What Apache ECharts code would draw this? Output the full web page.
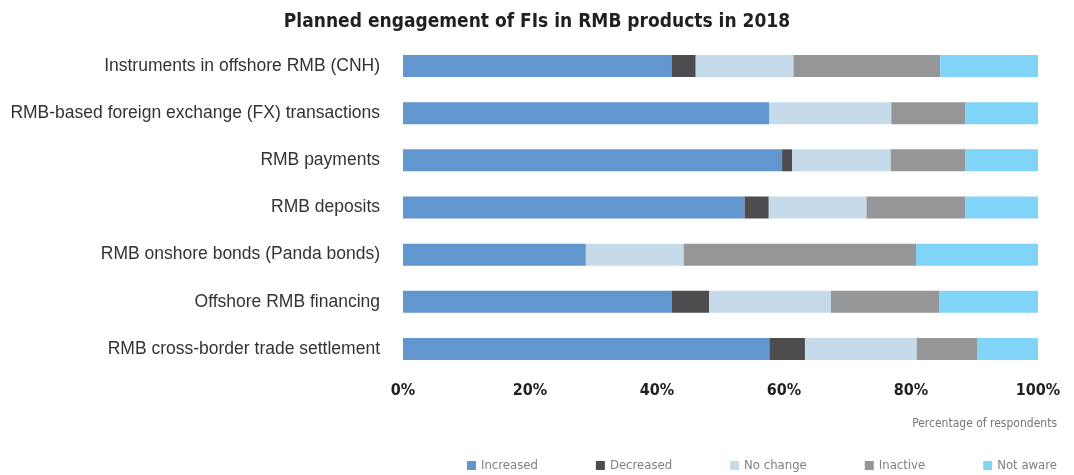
<!DOCTYPE html>
<html>
<head>
<meta charset="utf-8">
<script src="https://cdn.jsdelivr.net/npm/echarts@6/dist/echarts.min.js"></script>
<style>html,body{margin:0;padding:0;background:#fff}#c{width:1074px;height:475px}</style>
</head>
<body>
<div id="c"></div>
<script>
const categories = [
  'Instruments in offshore RMB (CNH)',
  'RMB-based foreign exchange (FX) transactions',
  'RMB payments',
  'RMB deposits',
  'RMB onshore bonds (Panda bonds)',
  'Offshore RMB financing',
  'RMB cross-border trade settlement'
];
const increased = [42.3, 57.7, 59.7, 53.8, 28.8, 42.3, 57.7];
const decreased = [3.8, 0, 1.6, 3.8, 0, 5.9, 5.6];
const noChange  = [15.4, 19.2, 15.5, 15.4, 15.4, 19.2, 17.6];
const inactive  = [23.1, 11.6, 11.7, 15.5, 36.6, 17.1, 9.5];
const notAware  = [15.4, 11.5, 11.5, 11.5, 19.2, 15.5, 9.6];
const tickValues = [0, 20, 40, 60, 80, 100];

const seriesNames = ['Increased', 'Decreased', 'No change', 'Inactive', 'Not aware'];
const seriesData = [increased, decreased, noChange, inactive, notAware];
const colors = ['#6196cf', '#4d4d4f', '#c5dbe9', '#959697', '#80d4f7'];
const COND = "'DejaVu Sans Condensed', 'Liberation Sans', sans-serif";
const SANS = "'Liberation Sans', Arial, sans-serif";

const chart = echarts.init(document.getElementById('c'));
chart.setOption({
  animation: false,
  color: colors,
  title: [{
    text: 'Planned engagement of FIs in RMB products in 2018',
    left: 'center',
    top: 13,
    padding: 0,
    textStyle: { fontFamily: COND, fontWeight: 'bold', fontSize: 19, color: '#231f20' }
  }, {
    text: 'Percentage of respondents',
    right: 17,
    top: 418,
    padding: 0,
    textStyle: { fontFamily: COND, fontWeight: 'normal', fontSize: 12, color: '#777' }
  }],
  legend: {
    data: seriesNames,
    right: 17,
    top: 459,
    padding: 0,
    itemWidth: 9,
    itemHeight: 9,
    itemGap: 58,
    icon: 'rect',
    textStyle: { fontFamily: COND, fontSize: 13, color: '#808080' }
  },
  grid: { left: 403, right: 36, top: 42.4, bottom: 102.4, containLabel: false },
  xAxis: {
    type: 'value', min: 0, max: 100, interval: 20,
    axisLine: { show: false }, axisTick: { show: false }, splitLine: { show: false },
    axisLabel: {
      formatter: v => tickValues.includes(v) ? v + '%' : '',
      fontFamily: COND, fontWeight: 'bold', fontSize: 16, color: '#231f20', margin: 10
    }
  },
  yAxis: {
    type: 'category', data: categories, inverse: true,
    axisLine: { show: false }, axisTick: { show: false },
    axisLabel: { fontFamily: SANS, fontSize: 17.5, color: '#333', margin: 23 }
  },
  series: seriesNames.map((n, i) => ({
    name: n, type: 'bar', stack: 'total', barWidth: 22,
    data: seriesData[i],
    itemStyle: { color: colors[i] }
  }))
});
</script>
</body>
</html>
